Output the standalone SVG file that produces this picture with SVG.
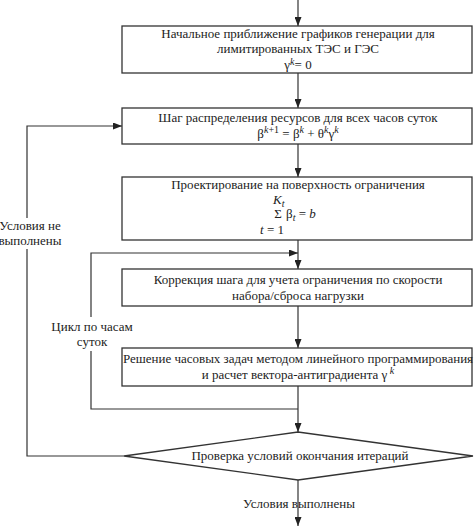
<svg xmlns="http://www.w3.org/2000/svg" width="474" height="530" viewBox="0 0 474 530" font-family="'Liberation Serif', 'DejaVu Serif', serif">
<defs>
<marker id="ah" markerUnits="userSpaceOnUse" markerWidth="9" markerHeight="7" refX="9" refY="3.5" orient="auto">
<path d="M0,0 L9,3.5 L0,7 z" fill="#222"/>
</marker>
<style>
.box{fill:#fff;stroke:#333;stroke-width:1.3}
.ln{fill:none;stroke:#333;stroke-width:1.2}
.t{font-family:'Liberation Serif','DejaVu Serif',serif;font-size:13px;fill:#222;text-anchor:middle}
.i{font-style:italic}
.s{font-size:10px}
</style>
</defs>
<rect width="474" height="530" fill="#fff"/>
<g id="connectors">
<path class="ln" d="M298,0 V26" marker-end="url(#ah)"/>
<path class="ln" d="M298,73 V108" marker-end="url(#ah)"/>
<path class="ln" d="M298,144 V177" marker-end="url(#ah)"/>
<path class="ln" d="M298,240 V269" marker-end="url(#ah)"/>
<path class="ln" d="M298,306 V348" marker-end="url(#ah)"/>
<path class="ln" d="M298,386 V432" marker-end="url(#ah)"/>
<path class="ln" d="M298,480 V526" marker-end="url(#ah)"/>
<path class="ln" d="M298,409 H91 V351"/>
<path class="ln" d="M91,317 V253 H298" marker-end="url(#ah)"/>
<path class="ln" d="M124,456 H27 V249"/>
<path class="ln" d="M27,218 V126 H122" marker-end="url(#ah)"/>
<text class="t" x="30" y="230">Условия не</text>
<text class="t" x="30" y="245">выполнены</text>
<text class="t" x="92" y="331">Цикл по часам</text>
<text class="t" x="92" y="346">суток</text>
<text class="t" x="299" y="508">Условия выполнены</text>
</g>
<g id="n1">
<rect class="box" x="122" y="26" width="350" height="47"/>
<text class="t" x="298" y="38">Начальное приближение графиков генерации для</text>
<text class="t" x="298" y="53">лимитированных ТЭС и ГЭС</text>
<text class="t" x="298" y="69">γ<tspan class="s i" dy="-4">k</tspan><tspan dy="4">= 0</tspan></text>
</g>
<g id="n2">
<rect class="box" x="122" y="108" width="350" height="36"/>
<text class="t" x="298" y="122">Шаг распределения ресурсов для всех часов суток</text>
<text class="t" x="298" y="138">β<tspan class="s i" dy="-5">k</tspan><tspan class="s" dy="0">+1</tspan><tspan dy="5"> = β</tspan><tspan class="s i" dy="-5">k</tspan><tspan dy="5"> + θ</tspan><tspan class="s i" dy="-5">k</tspan><tspan dy="5">γ</tspan><tspan class="s i" dy="-5">k</tspan></text>
</g>
<g id="n3">
<rect class="box" x="122" y="177" width="350" height="63"/>
<text class="t" x="298" y="189">Проектирование на поверхность ограничения</text>
<text class="t i" x="273" y="204" style="text-anchor:start">K<tspan class="s" dy="3">t</tspan></text>
<text class="t" x="278" y="218">Σ</text>
<text class="t" x="286" y="218" style="text-anchor:start">β<tspan class="s i" dy="3">t</tspan><tspan dy="-3"> = </tspan><tspan class="i">b</tspan></text>
<text class="t" x="272" y="234"><tspan class="i">t</tspan> = 1</text>
</g>
<g id="n4">
<rect class="box" x="122" y="269" width="350" height="37"/>
<text class="t" x="298" y="284">Коррекция шага для учета ограничения по скорости</text>
<text class="t" x="298" y="300">набора/сброса нагрузки</text>
</g>
<g id="n5">
<rect class="box" x="122" y="348" width="350" height="38"/>
<text class="t" x="298" y="363">Решение часовых задач методом линейного программирования</text>
<text class="t" x="298" y="379">и расчет вектора-антиградиента γ<tspan class="s i" dy="-5"> k</tspan></text>
</g>
<g id="n6">
<polygon class="box" points="124,456 298,432 473,456 298,480"/>
<text class="t" x="300" y="460">Проверка условий окончания итераций</text>
</g>
</svg>
